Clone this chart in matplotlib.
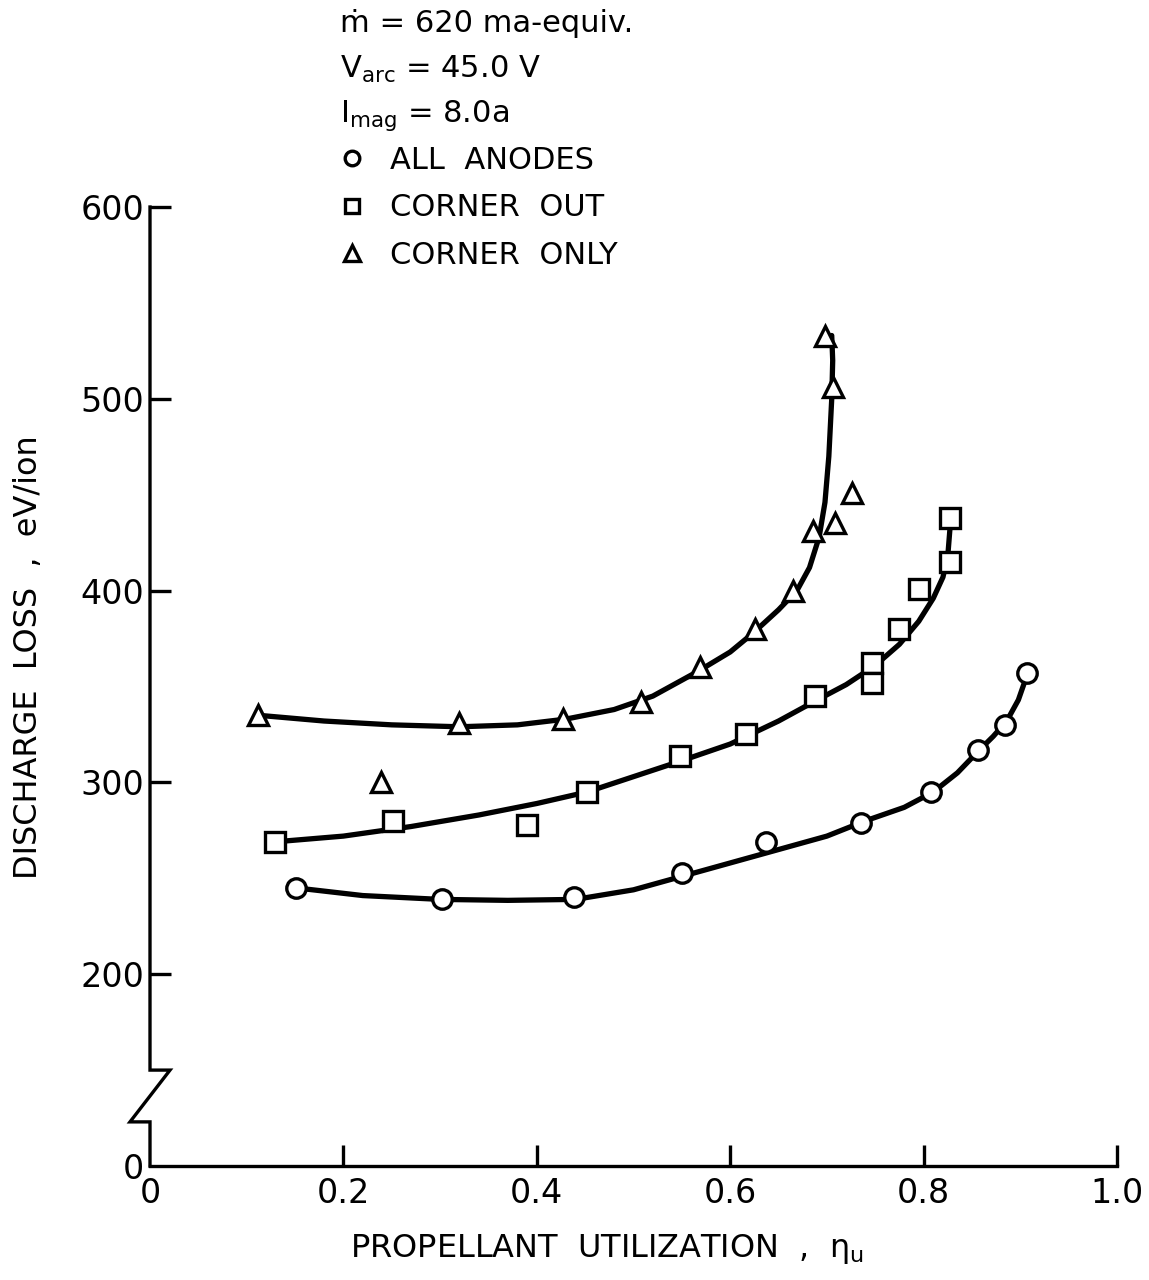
import matplotlib
matplotlib.use("Agg")
import matplotlib.pyplot as plt
import matplotlib.transforms as mtransforms

# ---------------- data ----------------
# ALL ANODES (circles)
aa_x = [0.151, 0.302, 0.438, 0.550, 0.637, 0.735, 0.808, 0.856, 0.884, 0.907]
aa_y = [245, 239, 240, 253, 269, 279, 295, 317, 330, 357]
aa_curve_x = [0.151, 0.22, 0.30, 0.37, 0.44, 0.50, 0.55, 0.60, 0.65, 0.70, 0.74, 0.78, 0.81, 0.835, 0.856, 0.872, 0.886, 0.898, 0.907]
aa_curve_y = [245, 241, 239, 238.5, 239, 244, 251, 258, 265, 272, 280, 287, 295, 305, 316, 324, 332, 343, 356]

# CORNER OUT (squares)
co_x = [0.129, 0.251, 0.390, 0.452, 0.548, 0.616, 0.688, 0.747, 0.747, 0.775, 0.795, 0.827, 0.827]
co_y = [269, 280, 278, 295, 314, 325, 345, 362, 352, 380, 401, 415, 438]
co_curve_x = [0.129, 0.20, 0.27, 0.34, 0.40, 0.452, 0.50, 0.548, 0.60, 0.65, 0.69, 0.72, 0.75, 0.775, 0.795, 0.810, 0.820, 0.825, 0.828]
co_curve_y = [269, 272, 277, 283, 289, 295, 303, 311, 320, 332, 343, 351, 361, 372, 384, 396, 407, 418, 437]

# CORNER ONLY (triangles)
cn_x = [0.112, 0.239, 0.320, 0.427, 0.508, 0.569, 0.626, 0.665, 0.686, 0.708, 0.726, 0.706, 0.698]
cn_y = [335, 300, 331, 333, 342, 360, 380, 400, 431, 435, 451, 506, 533]
cn_curve_x = [0.112, 0.18, 0.25, 0.32, 0.38, 0.43, 0.48, 0.52, 0.567, 0.60, 0.624, 0.650, 0.669, 0.682, 0.692, 0.698, 0.702, 0.705, 0.706, 0.705]
cn_curve_y = [335, 332, 330, 329, 330, 333, 338, 345, 358, 368, 378, 390, 400, 412, 428, 446, 470, 500, 520, 533]

xticks = [0, 0.2, 0.4, 0.6, 0.8, 1.0]
xticklabels = ["0", "0.2", "0.4", "0.6", "0.8", "1.0"]
yticks = [100, 200, 300, 400, 500, 600]
yticklabels = ["0", "200", "300", "400", "500", "600"]

header_lines = ["ṁ = 620 ma-equiv.",
                r"V$_{\mathregular{arc}}$ = 45.0 V",
                r"I$_{\mathregular{mag}}$ = 8.0a"]
series_labels = ["ALL  ANODES", "CORNER  OUT", "CORNER  ONLY"]

# ---------------- figure ----------------
plt.rcParams['font.family'] = ['DejaVu Sans']
plt.rcParams['mathtext.default'] = 'regular'

fig = plt.figure(figsize=(11.49, 12.8), dpi=100)
ax = fig.add_axes([150/1149, (1280-1166)/1280, 967/1149, 959/1280])
ax.set_xlim(0, 1.0)
ax.set_ylim(100, 600)

lw_curve = 3.8
ms = 14
mew = 2.4
ax.plot(aa_curve_x, aa_curve_y, color='black', lw=lw_curve, solid_capstyle='round', solid_joinstyle='round', zorder=2)
ax.plot(co_curve_x, co_curve_y, color='black', lw=lw_curve, solid_capstyle='round', solid_joinstyle='round', zorder=2)
ax.plot(cn_curve_x, cn_curve_y, color='black', lw=lw_curve, solid_capstyle='round', solid_joinstyle='round', zorder=2)

h1, = ax.plot(aa_x, aa_y, 'o', ms=ms, mfc='white', mec='black', mew=mew, ls='none', zorder=3)
h2, = ax.plot(co_x, co_y, 's', ms=ms, mfc='white', mec='black', mew=mew, ls='none', zorder=3)
h3, = ax.plot(cn_x, cn_y, '^', ms=ms+1, mfc='white', mec='black', mew=mew, ls='none', zorder=3)

# spines
for s in ['top', 'right', 'left']:
    ax.spines[s].set_visible(False)
ax.spines['bottom'].set_linewidth(2.4)

# left spine with break drawn in blended coords (axes x, data y)
trans = mtransforms.blended_transform_factory(ax.transAxes, ax.transData)
dx = 20/967
brk_hi, brk_lo = 150, 123
ax.plot([0, 0, dx, -dx, 0, 0], [600, brk_hi, brk_hi, brk_lo, brk_lo, 100],
        transform=trans, color='black', lw=2.4, clip_on=False, solid_joinstyle='miter', zorder=4)

ax.set_xticks(xticks)
ax.set_xticklabels(xticklabels)
ax.set_yticks(yticks)
ax.set_yticklabels(yticklabels)
ax.tick_params(axis='both', direction='in', length=15, width=2.4, labelsize=24, color='black')
ax.tick_params(axis='x', pad=8)
ax.tick_params(axis='y', pad=4)
ax.yaxis.get_major_ticks()[0].tick1line.set_visible(False)
ax.xaxis.get_major_ticks()[0].tick1line.set_visible(False)

ax.set_xlabel("PROPELLANT  UTILIZATION  ,  $\\eta_{\\mathregular{u}}$", fontsize=23)
ax.xaxis.set_label_coords((607-150)/967, -(1232-1166)/959)
ax.set_ylabel("DISCHARGE  LOSS  ,  eV/ion", fontsize=23)
ax.yaxis.set_label_coords(-(150-44)/967, (1166-657)/959)

# header text
y0 = 1 - 23/1280
step = 46.5/1280
for i, t in enumerate(header_lines):
    fig.text(340/1149, y0 - i*step, t, fontsize=22, ha='left', va='center')

leg = fig.legend([h1, h2, h3], series_labels, loc='upper left',
                 bbox_to_anchor=(340/1149, 1 - 146/1280), frameon=False,
                 fontsize=22, markerscale=0.75, handlelength=0.8, handletextpad=0.85,
                 labelspacing=0.6, borderaxespad=0, borderpad=0)

fig.savefig("out.png", dpi=100)
